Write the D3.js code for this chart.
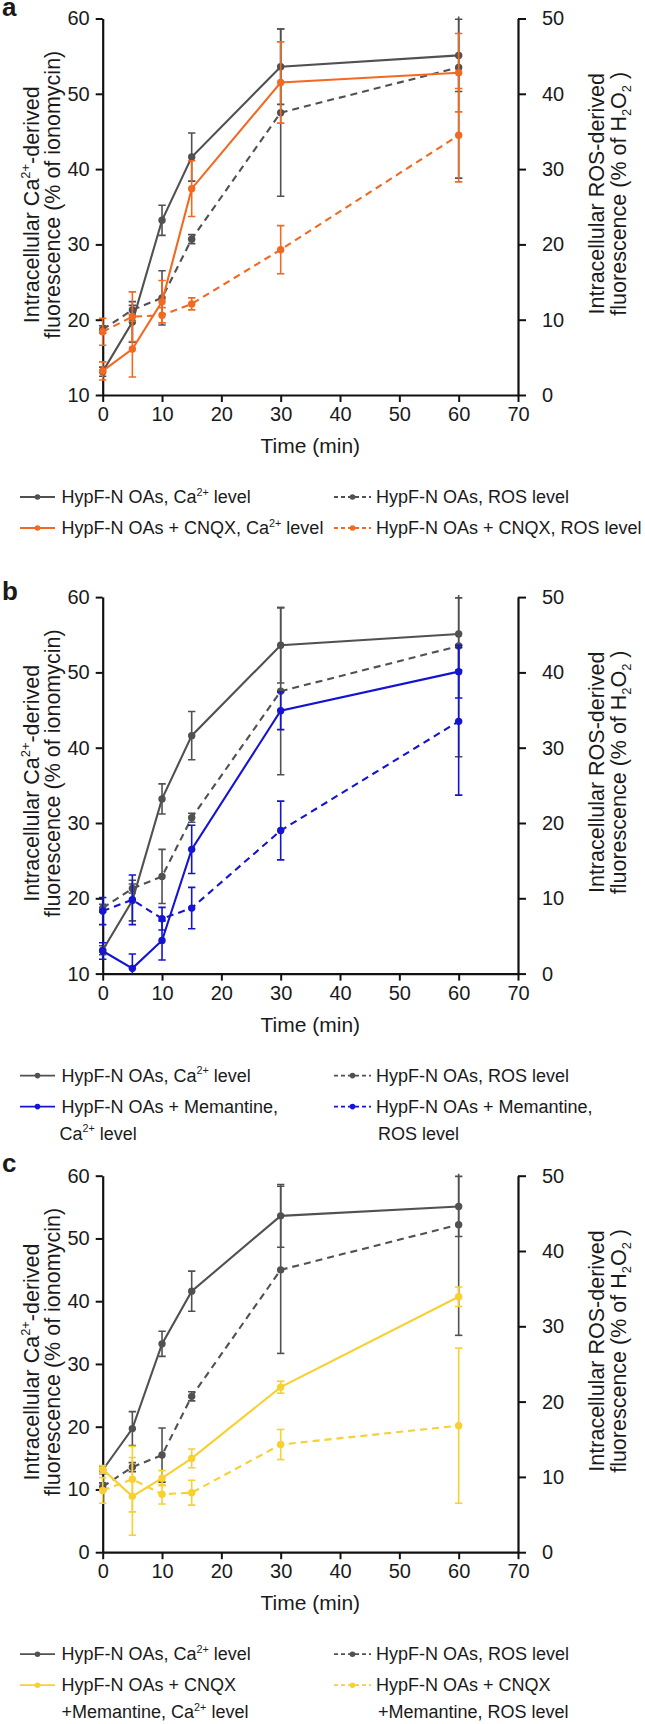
<!DOCTYPE html>
<html><head><meta charset="utf-8">
<script src="https://cdn.jsdelivr.net/npm/d3@7"></script>
<style>
body{margin:0;background:#fff}
svg{display:block}
text{font-family:"Liberation Sans",Arial,Helvetica,sans-serif;fill:#1a1a1a}
</style>
</head><body>
<svg id="chart" width="645" height="1724"></svg>
<script>
// ---------------- data ----------------
const times = [0, 5, 10, 15, 30, 60];
const xTicks = [0, 10, 20, 30, 40, 50, 60, 70];
const rightTicks = [0, 10, 20, 30, 40, 50];
const leftTicksAB = [10, 20, 30, 40, 50, 60];
const leftTicksC = [0, 10, 20, 30, 40, 50, 60];

const grayCa = [13.1, 19.7, 33.2, 41.6, 53.6, 55.1];
const grayCaErr = [0.6, 2.7, 2.0, 3.2, 5.0, 4.8];
const grayROS = [8.7, 11.3, 12.9, 20.7, 37.5, 43.5];
const grayROSErr = [0.5, 0.6, 3.6, 0.6, 11.1, 14.7];

const cnqxCa = [13.2, 16.1, 22.4, 37.4, 51.5, 52.8];
const cnqxCaErr = [1.2, 3.7, 2.8, 3.7, 5.4, 5.2];
const cnqxROS = [8.4, 10.4, 10.6, 12.1, 19.3, 34.5];
const cnqxROSErr = [1.8, 3.3, 1.0, 0.8, 3.2, 6.2];

const memCa = [13.0, 10.7, 14.4, 26.5, 44.9, 50.1];
const memCaErr = [1.1, 1.9, 2.6, 3.2, 2.5, 3.5];
const memROS = [8.3, 9.8, 7.3, 8.7, 19.0, 33.5];
const memROSErr = [1.8, 3.3, 1.5, 2.75, 3.9, 9.8];

const bothCa = [13.2, 8.9, 11.8, 14.95, 26.3, 40.7];
const bothCaErr = [0.6, 6.2, 1.2, 1.5, 0.95, 1.55];
const bothROS = [8.2, 9.7, 7.7, 7.9, 14.3, 16.8];
const bothROSErr = [1.7, 4.35, 1.3, 1.65, 2.0, 10.3];

const panelLabels = ["a", "b", "c"];

// ---------------- style / layout ----------------
const GRAY = "#515151", ORANGE = "#f26a21", BLUE = "#1414d2", YELLOW = "#f8d030";
const X0 = 102.7, X1 = 518;
const TOP0 = 18.5, PLOT_H = 376.5, STEP = 578.6;
const svg = d3.select("#chart");
const x = d3.scaleLinear().domain([0, 70]).range([X0, X1]);

const SUP = "2+";
const panels = [
  {
    leftDomain: [10, 60], leftTicks: leftTicksAB, labelDy: -2.5,
    series: [
      {v: cnqxCa, e: cnqxCaErr, c: ORANGE, dash: false, ax: "L"},
      {v: cnqxROS, e: cnqxROSErr, c: ORANGE, dash: true, ax: "R"}
    ],
    legend: [
      [{c: GRAY, dash: false, t: ["HypF-N OAs, Ca", {sup: SUP}, " level"]},
       {c: GRAY, dash: true, t: ["HypF-N OAs, ROS level"]}],
      [{c: ORANGE, dash: false, t: ["HypF-N OAs + CNQX, Ca", {sup: SUP}, " level"]},
       {c: ORANGE, dash: true, t: ["HypF-N OAs + CNQX, ROS level"]}]
    ]
  },
  {
    leftDomain: [10, 60], leftTicks: leftTicksAB, labelDy: 3,
    series: [
      {v: memCa, e: memCaErr, c: BLUE, dash: false, ax: "L"},
      {v: memROS, e: memROSErr, c: BLUE, dash: true, ax: "R"}
    ],
    legend: [
      [{c: GRAY, dash: false, t: ["HypF-N OAs, Ca", {sup: SUP}, " level"]},
       {c: GRAY, dash: true, t: ["HypF-N OAs, ROS level"]}],
      [{c: BLUE, dash: false, t: ["HypF-N OAs + Memantine,"]},
       {c: BLUE, dash: true, t: ["HypF-N OAs + Memantine,"]}],
      [{c: null, t: ["Ca", {sup: SUP}, " level"], dx: -2},
       {c: null, t: ["ROS level"], dx: 2}]
    ]
  },
  {
    leftDomain: [0, 60], leftTicks: leftTicksC, labelDy: -3.3,
    series: [
      {v: bothCa, e: bothCaErr, c: YELLOW, dash: false, ax: "L"},
      {v: bothROS, e: bothROSErr, c: YELLOW, dash: true, ax: "R"}
    ],
    legend: [
      [{c: GRAY, dash: false, t: ["HypF-N OAs, Ca", {sup: SUP}, " level"]},
       {c: GRAY, dash: true, t: ["HypF-N OAs, ROS level"]}],
      [{c: YELLOW, dash: false, t: ["HypF-N OAs + CNQX"]},
       {c: YELLOW, dash: true, t: ["HypF-N OAs + CNQX"]}],
      [{c: null, t: ["+Memantine, Ca", {sup: SUP}, " level"]},
       {c: null, t: ["+Memantine, ROS level"], dx: 2}]
    ]
  }
];

function rich(text, segs, fs) {
  let shift = 0;
  segs.forEach(s => {
    if (typeof s === "string") {
      text.append("tspan").attr("dy", -shift).style("font-size", fs + "px").text(s);
      shift = 0;
    } else if (s.sup) {
      const d = -fs * 0.4;
      text.append("tspan").attr("dy", d - shift).style("font-size", (fs * 0.6) + "px").text(s.sup);
      shift = d;
    } else if (s.sub) {
      const d = fs * 0.22;
      text.append("tspan").attr("dy", d - shift).style("font-size", (fs * 0.6) + "px").text(s.sub);
      shift = d;
    }
  });
  return text;
}

panels.forEach((p, i) => {
  const top = TOP0 + i * STEP, bottom = top + PLOT_H, mid = (top + bottom) / 2;
  const yL = d3.scaleLinear().domain(p.leftDomain).range([bottom, top]);
  const yR = d3.scaleLinear().domain([0, 50]).range([bottom, top]);
  const g = svg.append("g");

  // panel letter
  g.append("text").attr("x", 2).attr("y", top + p.labelDy)
    .style("font-size", "26px").style("font-weight", "bold").text(panelLabels[i]);

  // clip
  const cid = "clip" + i;
  g.append("clipPath").attr("id", cid).append("rect")
    .attr("x", X0 - 12).attr("y", top - 2).attr("width", X1 - X0 + 24).attr("height", PLOT_H + 2);

  // axes
  const axStyle = sel => {
    sel.select(".domain").attr("stroke", "#111").attr("stroke-width", 2.2);
    sel.selectAll(".tick line").attr("stroke", "#111").attr("stroke-width", 2);
    sel.selectAll(".tick text").style("font-size", "20px").attr("fill", "#1a1a1a")
      .style("font-family", "'Liberation Sans',Arial,sans-serif");
  };
  g.append("g").attr("transform", `translate(0,${bottom})`)
    .call(d3.axisBottom(x).tickValues(xTicks).tickSize(7).tickSizeOuter(0).tickPadding(5)).call(axStyle);
  g.append("g").attr("transform", `translate(${X0},0)`)
    .call(d3.axisLeft(yL).tickValues(p.leftTicks).tickSize(7).tickSizeOuter(0).tickPadding(6)).call(axStyle);
  g.append("g").attr("transform", `translate(${X1},0)`)
    .call(d3.axisRight(yR).tickValues(rightTicks).tickSize(8).tickSizeOuter(0).tickPadding(16)).call(axStyle);

  // axis titles
  g.append("text").attr("x", (X0 + X1) / 2).attr("y", bottom + 58)
    .attr("text-anchor", "middle").style("font-size", "21px").text("Time (min)");

  const TFS = 21.5;
  rich(g.append("text").attr("text-anchor", "middle")
    .attr("transform", `translate(38.5,${mid - 2}) rotate(-90)`),
    ["Intracellular Ca", {sup: SUP}, "-derived"], TFS);
  rich(g.append("text").attr("text-anchor", "middle")
    .attr("transform", `translate(60,${mid - 12}) rotate(-90)`),
    ["fluorescence (% of ionomycin)"], TFS);
  rich(g.append("text").attr("text-anchor", "middle")
    .attr("transform", `translate(604,${mid - 13}) rotate(-90)`),
    ["Intracellular ROS-derived"], TFS);
  rich(g.append("text").attr("text-anchor", "middle")
    .attr("transform", `translate(626,${mid - 13}) rotate(-90)`),
    ["fluorescence (% of H", {sub: "2"}, "O", {sub: "2"}, " )"], TFS);

  // data
  const all = [
    {v: grayCa, e: grayCaErr, c: GRAY, dash: false, ax: "L"},
    {v: grayROS, e: grayROSErr, c: GRAY, dash: true, ax: "R"}
  ].concat(p.series);
  const dg = g.append("g").attr("clip-path", `url(#${cid})`);
  all.forEach(s => {
    const y = s.ax === "L" ? yL : yR;
    const pts = times.map((t, k) => ({t, v: s.v[k], e: s.e[k]}));
    const sg = dg.append("g");
    // error bars
    pts.forEach(d => {
      const yt = y(d.v + d.e), yb = y(d.v - d.e), xc = x(d.t);
      sg.append("line").attr("x1", xc).attr("x2", xc).attr("y1", yt).attr("y2", yb)
        .attr("stroke", s.c).attr("stroke-width", 1.6);
      [yt, yb].forEach(yy => sg.append("line").attr("x1", xc - 3.7).attr("x2", xc + 3.7)
        .attr("y1", yy).attr("y2", yy).attr("stroke", s.c).attr("stroke-width", 1.6));
    });
    sg.append("path").datum(pts)
      .attr("d", d3.line().x(d => x(d.t)).y(d => y(d.v)))
      .attr("fill", "none").attr("stroke", s.c).attr("stroke-width", 2.1)
      .attr("stroke-dasharray", s.dash ? "7,5" : null);
    sg.selectAll("circle").data(pts).enter().append("circle")
      .attr("cx", d => x(d.t)).attr("cy", d => y(d.v)).attr("r", 3.7).attr("fill", s.c);
  });

  // legend
  const rowY = [bottom + 108, bottom + 139, bottom + 166];
  const colLine = [[20, 55], [334, 371]];
  const colText = [61.5, 376];
  p.legend.forEach((row, r) => {
    row.forEach((item, cIdx) => {
      const by = rowY[r];
      if (item.c) {
        const ly = by - 6;
        const [lx1, lx2] = colLine[cIdx];
        g.append("line").attr("x1", lx1).attr("x2", lx2).attr("y1", ly).attr("y2", ly)
          .attr("stroke", item.c).attr("stroke-width", 1.8)
          .attr("stroke-dasharray", item.dash ? "4,3" : null);
        g.append("circle").attr("cx", (lx1 + lx2) / 2).attr("cy", ly).attr("r", 2.8).attr("fill", item.c);
      }
      rich(g.append("text").attr("x", colText[cIdx] + (item.dx || 0)).attr("y", by), item.t, 18);
    });
  });
});
</script>
</body></html>
